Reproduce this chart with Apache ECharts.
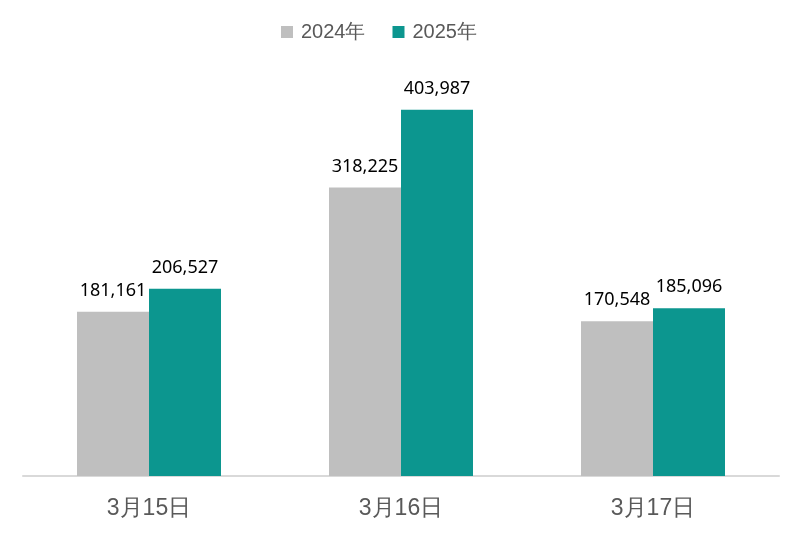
<!DOCTYPE html>
<html>
<head>
<meta charset="utf-8">
<script src="https://cdn.jsdelivr.net/npm/echarts@6/dist/echarts.min.js"></script>
<style>
  html, body { margin: 0; padding: 0; background: #fff; }
  #chart { width: 802px; height: 540px; }
</style>
</head>
<body>
<div id="chart"></div>
<script>
const categories = ['3月15日', '3月16日', '3月17日']
const seriesNames = ['2024年', '2025年']
const values2024 = [181161, 318225, 170548]
const values2025 = [206527, 403987, 185096]

const chart = echarts.init(document.getElementById('chart'))

const labelStyle = {
  show: true,
  position: 'top',
  distance: 12,
  fontFamily: 'Noto Sans',
  fontSize: 18,
  color: '#000',
  formatter: p => p.value.toLocaleString('en-US')
}

chart.setOption({
  animation: false,
  textStyle: { fontFamily: 'Noto Sans' },
  legend: {
    top: 17,
    left: 276,
    itemWidth: 12,
    itemHeight: 12,
    itemGap: 27,
    icon: 'rect',
    textStyle: { fontSize: 20, color: '#595959', fontFamily: 'Liberation Sans', padding: [0, 0, 0, 3] },
    data: seriesNames
  },
  grid: { left: 23, right: 23, top: 68, bottom: 64 },
  xAxis: {
    type: 'category',
    data: categories,
    axisLine: { lineStyle: { color: '#d9d9d9', width: 2 } },
    axisTick: { show: false },
    axisLabel: { fontSize: 23, color: '#595959', margin: 21, fontFamily: 'Liberation Sans' }
  },
  yAxis: {
    type: 'value',
    min: 0,
    max: 450000,
    show: false,
    splitLine: { show: false }
  },
  series: [
    {
      name: seriesNames[0],
      type: 'bar',
      data: values2024,
      barWidth: 72,
      barGap: '0%',
      itemStyle: { color: '#bfbfbf' },
      label: labelStyle
    },
    {
      name: seriesNames[1],
      type: 'bar',
      data: values2025,
      barWidth: 72,
      itemStyle: { color: '#0c968f' },
      label: labelStyle
    }
  ]
})
</script>
</body>
</html>
